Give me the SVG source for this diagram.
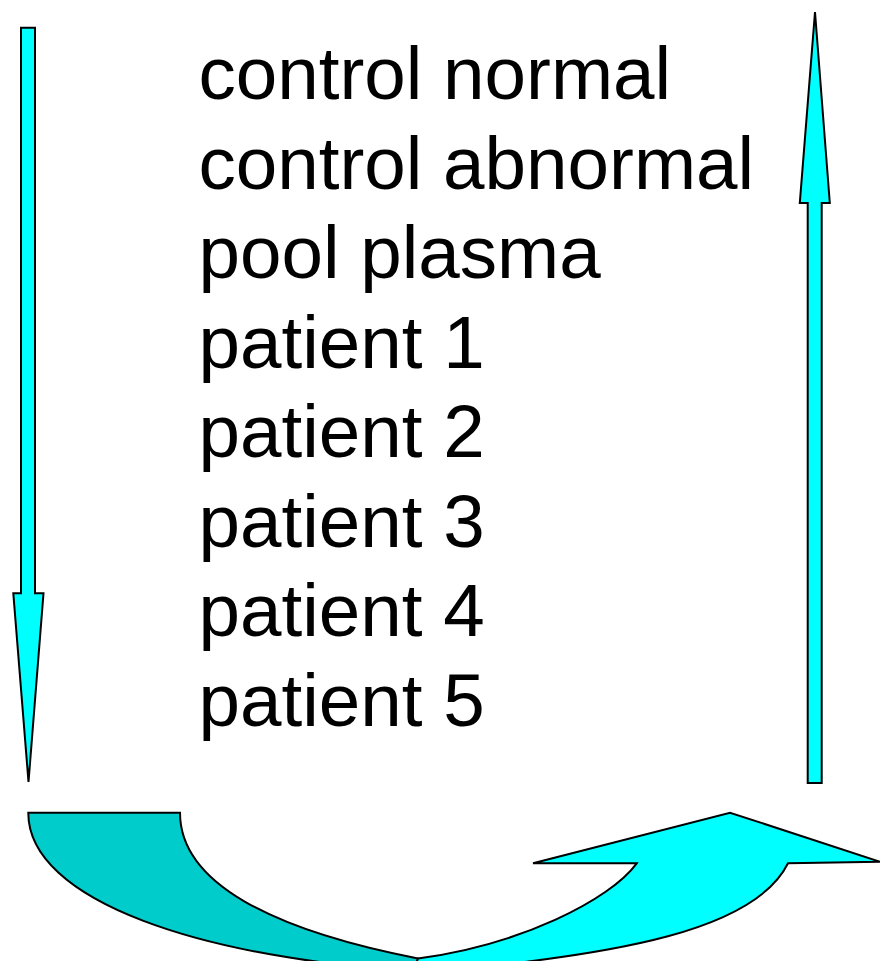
<svg xmlns="http://www.w3.org/2000/svg" width="880" height="961" viewBox="0 0 880 961">
  <style>
    .arrow { fill: #00FFFF; stroke: #000000; stroke-width: 2; stroke-linejoin: miter; }
    .dark { fill: #00CCCC; stroke: #000000; stroke-width: 2; stroke-linejoin: miter; }
    .label { font-family: "Liberation Sans", Arial, sans-serif; font-size: 74.6px; fill: #000000; }
  </style>
  <rect x="0" y="0" width="880" height="961" fill="#FFFFFF"/>
  <g id="connectors">
    <g id="arrow-down">
      <path class="arrow" d="M21,27.7 L35,27.7 L35,593.3 L43.5,593.3 L28.5,782 L13.3,593.3 L21,593.3 Z"/>
    </g>
    <g id="arrow-up">
      <path class="arrow" d="M807.7,783 L807.7,203 L799.8,203 L815,12 L829.8,203 L821.7,203 L821.7,783 Z"/>
    </g>
    <g id="curved-arrow">
      <path class="dark" d="M28.3,812.7 L180,812.7 C180,883 272,930 418,958.5 L430,975 L430,972 C200,960 28,900 28.3,812.7 Z"/>
      <path class="arrow" d="M418,958.5 C520,945 610,900 636.7,863.3 L533,863.3 L730,812.7 L880,861.7 L788,863.3 C755,930 620,955 430,972 L405,990 Z"/>
    </g>
  </g>
  <g id="labels">
    <text class="label" x="198.5" y="99.3">control normal</text>
    <text class="label" x="198.5" y="188.8">control abnormal</text>
    <text class="label" x="198.5" y="278.3">pool plasma</text>
    <text class="label" x="198.5" y="367.8">patient 1</text>
    <text class="label" x="198.5" y="457.3">patient 2</text>
    <text class="label" x="198.5" y="546.8">patient 3</text>
    <text class="label" x="198.5" y="636.3">patient 4</text>
    <text class="label" x="198.5" y="725.8">patient 5</text>
  </g>
</svg>
